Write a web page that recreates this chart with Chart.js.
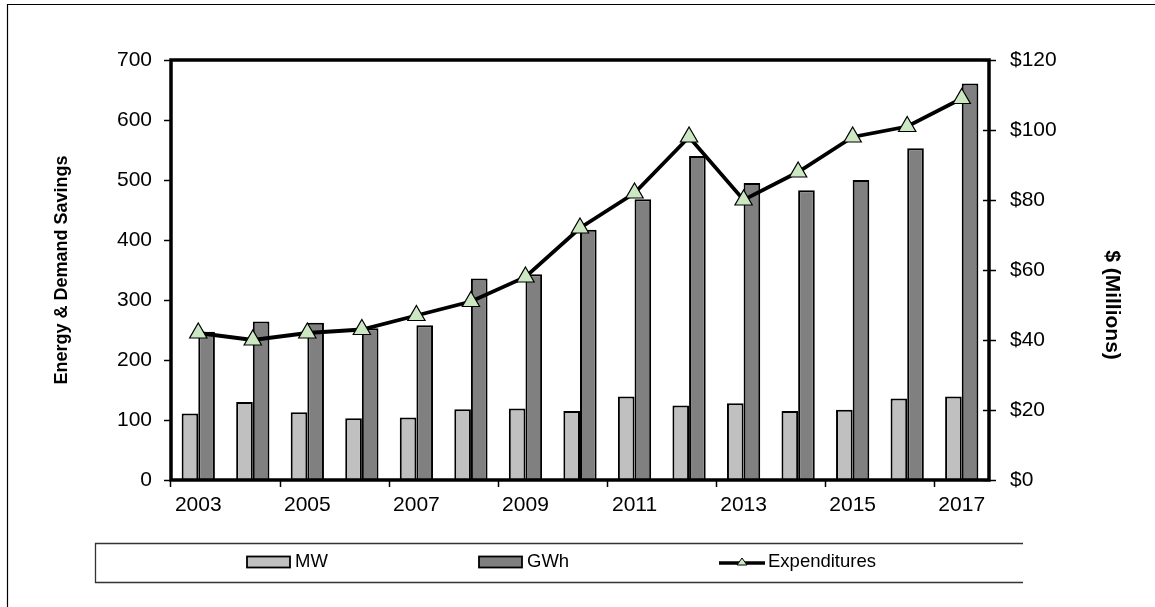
<!DOCTYPE html>
<html>
<head>
<meta charset="utf-8">
<title>Energy & Demand Savings</title>
<script src="https://cdn.jsdelivr.net/npm/chart.js@4.4.0/dist/chart.umd.min.js"></script>
<style>
  html, body { margin: 0; padding: 0; background: #fff; }
</style>
</head>
<body>
<canvas id="savingsChart" width="1155" height="607"></canvas>
<script>
// Chart data
const years = ['2003', '2004', '2005', '2006', '2007', '2008', '2009', '2010',
               '2011', '2012', '2013', '2014', '2015', '2016', '2017'];
const mwSavings = [111, 130, 113, 103, 104, 118, 119, 115, 139, 124, 128, 115, 117, 136, 139];
const gwhSavings = [247, 264, 262, 253, 258, 336, 343, 417, 468, 540, 495, 483, 500, 553, 661];
const expenditures = [42, 40, 42, 43, 47, 51, 58, 72, 82, 98, 80, 88, 98, 101, 109];
const leftTicks = [0, 700, 100];    // min, max, step
const rightTicks = [0, 120, 20];

const fontFamily = "'Liberation Sans', Arial, sans-serif";
const triangleGreen = '#CBE8C3';

// Draws the frame, axis titles and the legend strip the way Excel did
const excelFrame = {
    id: 'excelFrame',
    afterDraw(chart) {
        const ctx = chart.ctx;
        const area = chart.chartArea;
        ctx.save();

        // outer chart border (only left and top are inside the picture)
        ctx.strokeStyle = '#000';
        ctx.lineWidth = 1.2;
        ctx.beginPath();
        ctx.moveTo(7.5, 607);
        ctx.lineTo(7.5, 4.5);
        ctx.lineTo(1155, 4.5);
        ctx.stroke();

        // heavy plot area border
        ctx.lineWidth = 3.5;
        ctx.strokeRect(area.left, area.top, area.right - area.left, area.bottom - area.top);

        // right axis ticks cross the axis line a little
        const y2 = chart.scales.y2;
        ctx.lineWidth = 1.5;
        y2.ticks.forEach(t => {
            const py = Math.round(y2.getPixelForValue(t.value)) + 0.5;
            ctx.beginPath();
            ctx.moveTo(area.right - 6, py);
            ctx.lineTo(area.right, py);
            ctx.stroke();
        });

        // axis titles
        ctx.fillStyle = '#000';
        ctx.textAlign = 'center';
        ctx.textBaseline = 'middle';
        ctx.font = 'bold 18px ' + fontFamily;
        ctx.save();
        ctx.translate(62.5, 270);
        ctx.rotate(-Math.PI / 2);
        ctx.fillText('Energy & Demand Savings', 0, 0);
        ctx.restore();

        ctx.font = 'bold 21px ' + fontFamily;
        ctx.save();
        ctx.translate(1112, 305);
        ctx.rotate(Math.PI / 2);
        ctx.fillText('$ (Millions)', 0, 0);
        ctx.restore();

        // legend strip
        ctx.strokeStyle = '#333';
        ctx.lineWidth = 1.3;
        ctx.beginPath();
        ctx.moveTo(1023, 543.5);
        ctx.lineTo(95.5, 543.5);
        ctx.lineTo(95.5, 582.5);
        ctx.lineTo(1023, 582.5);
        ctx.stroke();

        const legendY = 562;
        ctx.font = '18.5px ' + fontFamily;
        ctx.textAlign = 'left';
        ctx.textBaseline = 'middle';

        const swatches = [
            { x: 247, label: 'MW', color: chart.data.datasets[0].backgroundColor },
            { x: 479, label: 'GWh', color: chart.data.datasets[1].backgroundColor }
        ];
        swatches.forEach(s => {
            ctx.fillStyle = s.color;
            ctx.fillRect(s.x, legendY - 5.5, 43, 11);
            ctx.strokeStyle = '#000';
            ctx.lineWidth = 1.8;
            ctx.strokeRect(s.x, legendY - 5.5, 43, 11);
            ctx.fillStyle = '#000';
            ctx.fillText(s.label, s.x + 48, legendY);
        });

        // line + marker sample
        ctx.strokeStyle = '#000';
        ctx.lineWidth = 3.5;
        ctx.beginPath();
        ctx.moveTo(719, legendY + 1);
        ctx.lineTo(765, legendY + 1);
        ctx.stroke();
        ctx.fillStyle = triangleGreen;
        ctx.lineWidth = 1;
        ctx.beginPath();
        ctx.moveTo(742, legendY - 4);
        ctx.lineTo(747, legendY + 3);
        ctx.lineTo(737, legendY + 3);
        ctx.closePath();
        ctx.fill();
        ctx.stroke();
        ctx.fillStyle = '#000';
        ctx.fillText('Expenditures', 768, legendY);

        ctx.restore();
    }
};

const ctx = document.getElementById('savingsChart').getContext('2d');

const savingsChart = new Chart(ctx, {
    type: 'bar',
    data: {
        labels: years,
        datasets: [
            {
                label: 'MW',
                data: mwSavings,
                yAxisID: 'y',
                backgroundColor: '#C0C0C0',
                borderColor: '#000',
                borderWidth: 2,
                categoryPercentage: 0.61,
                barPercentage: 1.0,
                order: 2
            },
            {
                label: 'GWh',
                data: gwhSavings,
                yAxisID: 'y',
                backgroundColor: '#808080',
                borderColor: '#000',
                borderWidth: 2,
                categoryPercentage: 0.61,
                barPercentage: 1.0,
                order: 2
            },
            {
                type: 'line',
                label: 'Expenditures',
                data: expenditures,
                yAxisID: 'y2',
                borderColor: '#000',
                borderWidth: 3.8,
                tension: 0,
                pointStyle: 'triangle',
                pointRadius: 10,
                pointBackgroundColor: triangleGreen,
                pointBorderColor: '#000',
                pointBorderWidth: 1.2,
                order: 0
            }
        ]
    },
    options: {
        responsive: false,
        animation: false,
        devicePixelRatio: 1,
        layout: { padding: { top: 60, left: 0, right: 0, bottom: 0 } },
        plugins: {
            legend: { display: false },
            tooltip: { enabled: false }
        },
        scales: {
            x: {
                offset: true,
                grid: {
                    offset: true,
                    drawOnChartArea: false,
                    tickLength: 7,
                    tickWidth: 1.5,
                    tickColor: c => (c.index !== undefined && c.index % 2 === 0) ? '#000' : 'rgba(0,0,0,0)'
                },
                border: { display: false },
                ticks: {
                    autoSkip: false,
                    maxRotation: 0,
                    color: '#000',
                    padding: 6,
                    font: { size: 21, family: fontFamily },
                    callback: (value, index) => index % 2 === 0 ? years[index] : ''
                },
                afterFit: scale => { scale.height = 127; }
            },
            y: {
                position: 'left',
                min: leftTicks[0],
                max: leftTicks[1],
                grid: { drawOnChartArea: false, tickLength: 7, tickWidth: 1.5, tickColor: '#000' },
                border: { display: false },
                ticks: {
                    stepSize: leftTicks[2],
                    color: '#000',
                    padding: 12,
                    font: { size: 21, family: fontFamily }
                },
                afterFit: scale => { scale.width = 171; }
            },
            y2: {
                position: 'right',
                min: rightTicks[0],
                max: rightTicks[1],
                grid: { drawOnChartArea: false, tickLength: 7, tickWidth: 1.5, tickColor: '#000' },
                border: { display: false },
                ticks: {
                    stepSize: rightTicks[2],
                    color: '#000',
                    padding: 14,
                    font: { size: 21, family: fontFamily },
                    callback: value => '$' + value
                },
                afterFit: scale => { scale.width = 166; }
            }
        }
    },
    plugins: [excelFrame]
});
</script>
</body>
</html>
